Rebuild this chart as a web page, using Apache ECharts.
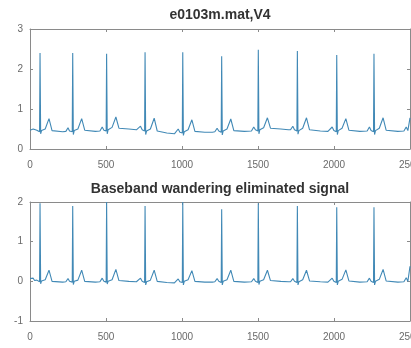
<!DOCTYPE html>
<html>
<head>
<meta charset="utf-8">
<script src="https://cdn.jsdelivr.net/npm/echarts@6/dist/echarts.min.js"></script>
<style>
  html, body { margin: 0; padding: 0; background: #fff; }
  #main { width: 411px; height: 348px; }
</style>
</head>
<body>
<div id="main"></div>
<script>
// 原始信号 (样本序号, 幅值)
var rawSignal = [
  [0,0.47],[10,0.43],[21,0.5],[30,0.45],[45,0.47],[58,0.48],[63,0.43],[66,2.4],[70,0.38],[76,0.46],[100,0.5],[125,0.76],[145,0.46],[215,0.43],
  [236,0.44],[250,0.53],[260,0.45],[273,0.48],[278,0.43],[281,2.4],[285,0.36],[291,0.46],[315,0.5],[340,0.76],[360,0.47],[430,0.44],
  [460,0.45],[475,0.55],[486,0.47],[496,0.5],[501,0.45],[504,2.38],[508,0.38],[514,0.48],[540,0.54],[565,0.8],[585,0.52],[650,0.5],[700,0.48],
  [712,0.48],[727,0.57],[738,0.48],[749,0.5],[754,0.45],[757,2.42],[761,0.36],[767,0.45],[792,0.5],[817,0.77],[837,0.45],[900,0.4],[950,0.38],
  [960,0.4],[975,0.5],[986,0.42],[997,0.44],[1002,0.4],[1005,2.42],[1009,0.34],[1015,0.43],[1040,0.48],[1065,0.73],[1085,0.44],[1150,0.42],[1200,0.42],
  [1216,0.43],[1231,0.52],[1242,0.45],[1253,0.47],[1258,0.42],[1261,2.32],[1265,0.35],[1271,0.45],[1296,0.5],[1321,0.75],[1341,0.46],[1410,0.44],
  [1457,0.45],[1472,0.55],[1483,0.48],[1494,0.5],[1499,0.45],[1502,2.48],[1506,0.38],[1512,0.48],[1537,0.53],[1562,0.78],[1582,0.52],[1650,0.5],[1700,0.48],
  [1714,0.48],[1729,0.57],[1740,0.48],[1751,0.5],[1756,0.45],[1759,2.45],[1763,0.37],[1769,0.46],[1794,0.52],[1819,0.78],[1839,0.48],[1910,0.45],[1960,0.44],
  [1973,0.45],[1988,0.55],[1999,0.46],[2010,0.48],[2015,0.43],[2018,2.35],[2022,0.36],[2028,0.46],[2053,0.52],[2078,0.76],[2098,0.47],[2170,0.44],
  [2218,0.45],[2233,0.55],[2244,0.46],[2255,0.48],[2260,0.43],[2263,2.38],[2267,0.36],[2273,0.46],[2298,0.52],[2323,0.78],[2343,0.47],[2420,0.44],
  [2460,0.45],[2475,0.55],[2486,0.46],[2494,0.48],[2497,0.44],[2500,0.78]
];

// 去除基线漂移后的信号
var cleanSignal = [
  [0,0.07],[10,0.02],[21,0.08],[30,0.02],[45,0.03],[58,0.04],[63,-0.01],[66,1.97],[70,-0.06],[76,0.01],[100,0.04],[125,0.28],[145,0.0],[215,-0.02],
  [236,-0.01],[250,0.07],[260,0.0],[273,0.03],[278,-0.02],[281,1.9],[285,-0.08],[291,0.0],[315,0.03],[340,0.28],[360,0.0],[430,-0.02],
  [460,-0.01],[475,0.08],[486,0.0],[496,0.03],[501,-0.02],[504,2.0],[508,-0.07],[514,0.0],[540,0.04],[565,0.3],[585,0.02],[650,0.0],[700,-0.01],
  [712,-0.01],[727,0.08],[738,0.0],[749,0.02],[754,-0.03],[757,1.9],[761,-0.09],[767,-0.01],[792,0.03],[817,0.28],[837,0.0],[900,-0.03],[950,-0.04],
  [960,-0.03],[975,0.06],[986,-0.01],[997,0.02],[1002,-0.03],[1005,2.0],[1009,-0.09],[1015,0.0],[1040,0.04],[1065,0.27],[1085,0.0],[1150,-0.02],[1200,-0.02],
  [1216,-0.01],[1231,0.07],[1242,0.0],[1253,0.02],[1258,-0.03],[1261,1.82],[1265,-0.09],[1271,0.0],[1296,0.04],[1321,0.28],[1341,0.0],[1410,-0.02],
  [1457,-0.01],[1472,0.07],[1483,0.0],[1494,0.02],[1499,-0.03],[1502,1.97],[1506,-0.08],[1512,0.0],[1537,0.04],[1562,0.28],[1582,0.02],[1650,0.0],[1700,-0.01],
  [1714,-0.01],[1729,0.07],[1740,0.0],[1751,0.02],[1756,-0.03],[1759,1.9],[1763,-0.09],[1769,-0.01],[1794,0.04],[1819,0.28],[1839,0.01],[1910,-0.01],[1960,-0.02],
  [1973,-0.01],[1988,0.08],[1999,0.0],[2010,0.02],[2015,-0.03],[2018,1.87],[2022,-0.09],[2028,0.0],[2053,0.05],[2078,0.29],[2098,0.01],[2170,-0.02],
  [2218,-0.01],[2233,0.08],[2244,0.0],[2255,0.02],[2260,-0.03],[2263,1.87],[2267,-0.09],[2273,0.0],[2298,0.05],[2323,0.3],[2343,0.01],[2420,-0.02],
  [2460,-0.01],[2475,0.09],[2486,0.0],[2494,0.02],[2497,-0.02],[2500,0.38]
];

var titles = ['e0103m.mat,V4', 'Baseband wandering eliminated signal'];
var xRange = [0, 2500];
var yRangeTop = [0, 3];
var yRangeBottom = [-1, 2];

var chart = echarts.init(document.getElementById('main'), null, { renderer: 'canvas' });

var axisColor = '#8a8a8a';
var labelStyle = { color: '#6a6a6a', fontSize: 10, fontFamily: 'Liberation Sans' };

// x轴 (下方带标签, 上方只画刻度)
function xAxes(gridIndex) {
  return [{
    gridIndex: gridIndex, type: 'value', min: xRange[0], max: xRange[1], interval: 500,
    position: 'bottom',
    axisLine: { show: true, onZero: false, lineStyle: { color: axisColor, width: 1 } },
    axisTick: { show: true, inside: true, length: 3, lineStyle: { color: axisColor } },
    axisLabel: Object.assign({ margin: 11, showMaxLabel: true, formatter: function (v) { return String(v); } }, labelStyle),
    splitLine: { show: false }
  }, {
    gridIndex: gridIndex, type: 'value', min: xRange[0], max: xRange[1], interval: 500,
    position: 'top',
    axisLine: { show: true, onZero: false, lineStyle: { color: axisColor, width: 1 } },
    axisTick: { show: true, inside: true, length: 3, lineStyle: { color: axisColor } },
    axisLabel: { show: false },
    splitLine: { show: false }
  }];
}

function yAxes(gridIndex, range) {
  return [{
    gridIndex: gridIndex, type: 'value', min: range[0], max: range[1], interval: 1,
    position: 'left',
    axisLine: { show: true, onZero: false, lineStyle: { color: axisColor, width: 1 } },
    axisTick: { show: true, inside: true, length: 3, lineStyle: { color: axisColor } },
    axisLabel: Object.assign({ margin: 7 }, labelStyle),
    splitLine: { show: false }
  }, {
    gridIndex: gridIndex, type: 'value', min: range[0], max: range[1], interval: 1,
    position: 'right',
    axisLine: { show: true, onZero: false, lineStyle: { color: axisColor, width: 1 } },
    axisTick: { show: true, inside: true, length: 3, lineStyle: { color: axisColor } },
    axisLabel: { show: false },
    splitLine: { show: false }
  }];
}

var titleStyle = { fontSize: 14, fontWeight: 'bold', color: '#333', fontFamily: 'Liberation Sans' };

var option = {
  animation: false,
  backgroundColor: '#fff',
  title: [{
    text: titles[0], left: 220, top: 8, textAlign: 'center', padding: 0,
    textStyle: titleStyle
  }, {
    text: titles[1], left: 220, top: 182, textAlign: 'center', padding: 0,
    textStyle: titleStyle
  }],
  grid: [
    { left: 30, top: 29, width: 380, height: 120, outerBoundsMode: 'none', containLabel: false },
    { left: 30, top: 202, width: 380, height: 119, outerBoundsMode: 'none', containLabel: false }
  ],
  xAxis: xAxes(0).concat(xAxes(1)),
  yAxis: yAxes(0, yRangeTop).concat(yAxes(1, yRangeBottom)),
  series: [{
    type: 'line', xAxisIndex: 0, yAxisIndex: 0, data: rawSignal,
    showSymbol: false, smooth: false,
    lineStyle: { color: '#4189b6', width: 1.1 }
  }, {
    type: 'line', xAxisIndex: 2, yAxisIndex: 2, data: cleanSignal,
    showSymbol: false, smooth: false,
    lineStyle: { color: '#4189b6', width: 1.1 }
  }]
};

chart.setOption(option);
</script>
</body>
</html>
